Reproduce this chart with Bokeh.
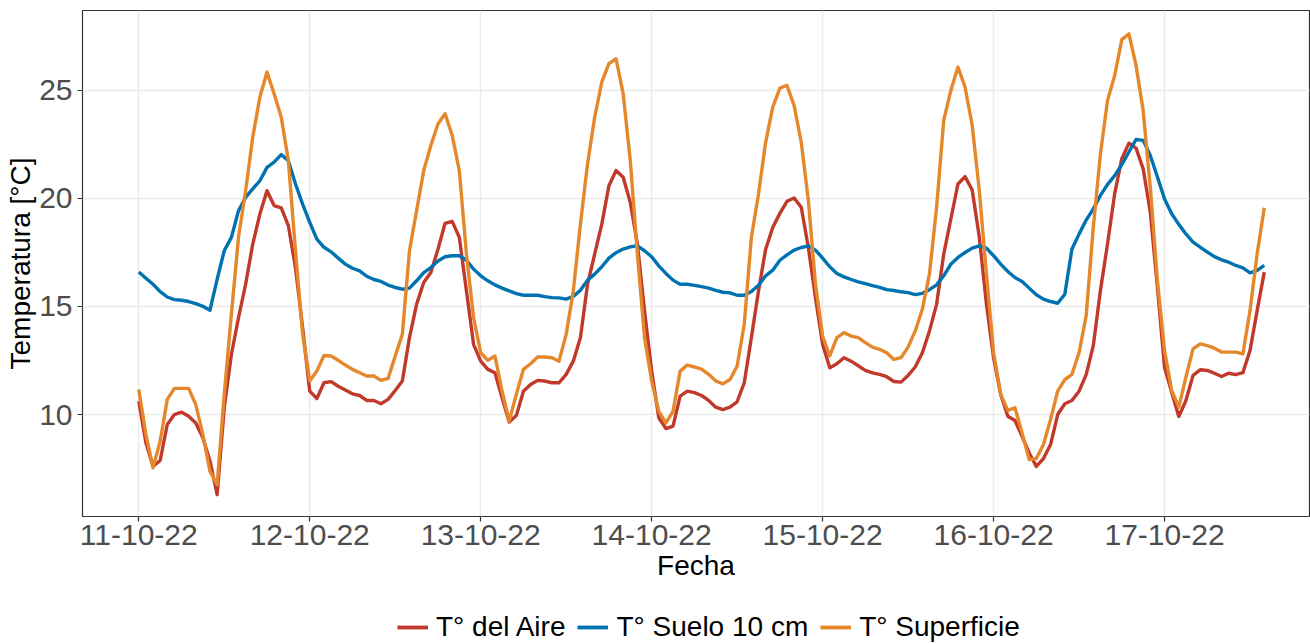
import pandas as pd
from bokeh.plotting import figure
from bokeh.layouts import column
from bokeh.models import (Range1d, FixedTicker, DaysTicker, DatetimeTickFormatter,
                          Legend, LegendItem)
from bokeh.embed import file_html
from bokeh.resources import INLINE

# ---------------- data (hourly, from 11-10-2022 00:00) ----------------
inicio = "2022-10-11 00:00"

t_aire = [
    10.62, 8.69, 7.60, 7.87, 9.54, 10.00, 10.11, 9.92, 9.61, 8.92, 7.84, 6.29,
    10.31, 12.78, 14.48, 16.03, 17.89, 19.28, 20.36, 19.67, 19.56, 18.74, 16.80, 14.02,
    11.08, 10.74, 11.47, 11.52, 11.31, 11.13, 10.96, 10.88, 10.65, 10.65, 10.50, 10.70,
    11.11, 11.55, 13.56, 15.10, 16.11, 16.57, 17.65, 18.85, 18.94, 18.20, 15.72, 13.25,
    12.47, 12.09, 11.93, 10.77, 9.65, 9.95, 11.08, 11.39, 11.58, 11.55, 11.47, 11.47,
    11.86, 12.47, 13.56, 16.03, 17.42, 18.81, 20.59, 21.29, 20.98, 19.82, 17.89, 14.80,
    12.01, 9.85, 9.35, 9.46, 10.85, 11.08, 11.01, 10.88, 10.65, 10.34, 10.23, 10.34,
    10.59, 11.47, 13.56, 15.72, 17.65, 18.66, 19.31, 19.87, 20.02, 19.59, 17.73, 15.41,
    13.25, 12.16, 12.35, 12.63, 12.47, 12.26, 12.04, 11.93, 11.86, 11.75, 11.53, 11.50,
    11.81, 12.20, 12.86, 13.87, 15.10, 17.42, 19.05, 20.67, 21.01, 20.39, 18.20, 15.10,
    12.63, 10.93, 9.92, 9.72, 8.99, 8.22, 7.60, 7.96, 8.61, 10.00, 10.50, 10.65,
    11.08, 11.85, 13.19, 15.74, 17.90, 20.22, 21.84, 22.56, 22.33, 21.37, 19.37, 15.90,
    12.19, 11.03, 9.91, 10.65, 11.81, 12.07, 12.04, 11.91, 11.76, 11.91, 11.85, 11.94,
    12.96, 14.81, 16.59,
]

t_suelo = [
    16.60, 16.31, 16.03, 15.69, 15.44, 15.32, 15.29, 15.23, 15.13, 15.01, 14.83, 16.25,
    17.58, 18.20, 19.43, 20.05, 20.44, 20.82, 21.44, 21.68, 22.03, 21.75, 20.67, 19.74,
    18.89, 18.12, 17.74, 17.53, 17.24, 16.96, 16.77, 16.65, 16.40, 16.25, 16.16, 15.99,
    15.88, 15.80, 15.85, 16.19, 16.57, 16.80, 17.11, 17.30, 17.35, 17.35, 17.14, 16.73,
    16.42, 16.19, 16.00, 15.85, 15.72, 15.60, 15.52, 15.52, 15.52, 15.46, 15.41, 15.40,
    15.34, 15.47, 15.75, 16.22, 16.50, 16.84, 17.24, 17.49, 17.66, 17.76, 17.81, 17.58,
    17.30, 16.88, 16.53, 16.22, 16.03, 16.03, 15.98, 15.92, 15.85, 15.75, 15.66, 15.63,
    15.52, 15.52, 15.69, 15.98, 16.42, 16.68, 17.14, 17.39, 17.61, 17.73, 17.81, 17.61,
    17.24, 16.84, 16.53, 16.37, 16.25, 16.14, 16.06, 15.97, 15.88, 15.78, 15.74, 15.68,
    15.64, 15.55, 15.61, 15.78, 16.00, 16.42, 16.96, 17.27, 17.50, 17.70, 17.81, 17.70,
    17.35, 16.96, 16.62, 16.34, 16.16, 15.85, 15.54, 15.34, 15.23, 15.15, 15.57, 17.66,
    18.35, 19.00, 19.52, 20.14, 20.65, 21.06, 21.57, 22.15, 22.73, 22.69, 21.99, 20.99,
    19.98, 19.29, 18.80, 18.36, 17.98, 17.75, 17.52, 17.31, 17.16, 17.05, 16.90, 16.79,
    16.56, 16.67, 16.90,
]

t_superficie = [
    11.16, 9.07, 7.53, 8.76, 10.70, 11.21, 11.21, 11.21, 10.46, 9.07, 7.37, 6.75,
    10.93, 14.64, 18.20, 20.36, 22.84, 24.69, 25.85, 24.85, 23.76, 21.75, 17.58, 13.71,
    11.55, 12.01, 12.73, 12.71, 12.51, 12.29, 12.09, 11.93, 11.78, 11.78, 11.58, 11.67,
    12.71, 13.71, 17.58, 19.43, 21.29, 22.45, 23.45, 23.92, 22.91, 21.29, 17.42, 14.49,
    12.86, 12.51, 12.71, 11.08, 9.70, 10.93, 12.09, 12.35, 12.66, 12.66, 12.63, 12.47,
    13.71, 15.72, 18.81, 21.60, 23.76, 25.39, 26.24, 26.47, 24.85, 21.75, 17.42, 13.56,
    11.55, 10.15, 9.61, 10.15, 12.01, 12.29, 12.20, 12.10, 11.86, 11.55, 11.42, 11.62,
    12.24, 14.18, 18.20, 20.21, 22.60, 24.23, 25.11, 25.23, 24.30, 22.60, 19.90, 16.03,
    13.63, 12.71, 13.56, 13.79, 13.63, 13.56, 13.33, 13.12, 13.02, 12.86, 12.55, 12.63,
    13.12, 13.87, 14.87, 16.50, 19.59, 23.61, 25.00, 26.08, 25.15, 23.38, 20.36, 16.50,
    12.86, 10.93, 10.19, 10.31, 9.15, 7.91, 7.96, 8.61, 9.77, 11.08, 11.62, 11.86,
    12.86, 14.58, 18.67, 22.07, 24.54, 25.69, 27.35, 27.62, 26.16, 24.07, 20.52, 16.20,
    12.96, 11.11, 10.34, 11.73, 13.04, 13.27, 13.19, 13.07, 12.89, 12.89, 12.89, 12.81,
    14.81, 17.44, 19.57,
]

y_ticks = [10, 15, 20, 25]
series_labels = ["T° del Aire", "T° Suelo 10 cm", "T° Superficie"]
series_colors = ["#C0392B", "#0072B2", "#E4882B"]
series_values = [t_aire, t_suelo, t_superficie]

# ---------------- main figure ----------------
FONT = "Liberation Sans"
t0 = pd.Timestamp(inicio)
fechas = pd.date_range(t0, periods=len(t_aire), freq="h")

p = figure(
    width=1310, height=600,
    output_backend="svg", toolbar_location=None,
    x_axis_type="datetime",
    x_range=Range1d(t0 - pd.Timedelta(hours=7.9), t0 + pd.Timedelta(hours=164.35)),
    y_range=Range1d(5.28, 28.70),
    min_border_left=82, min_border_right=1, min_border_top=10, min_border_bottom=84,
    x_axis_label="Fecha", y_axis_label="Temperatura [°C]",
)
p.background_fill_color = "white"
p.border_fill_color = "white"
p.outline_line_color = "#333333"
p.outline_line_width = 1.2

p.yaxis.ticker = FixedTicker(ticks=y_ticks)
p.xaxis.ticker = DaysTicker(days=list(range(1, 32)))
p.xaxis.formatter = DatetimeTickFormatter(days="%d-%m-%y", months="%d-%m-%y",
                                          hours="%d-%m-%y", years="%d-%m-%y")

for ax in (p.xaxis[0], p.yaxis[0]):
    ax.axis_line_color = None
    ax.major_tick_line_color = "#333333"
    ax.major_tick_line_width = 1.2
    ax.major_tick_out = 5
    ax.major_tick_in = 0
    ax.minor_tick_line_color = None
    ax.major_label_text_font = FONT
    ax.major_label_text_font_size = "30px"
    ax.major_label_text_color = "#4D4D4D"
    ax.axis_label_text_font = FONT
    ax.axis_label_text_font_style = "normal"
    ax.axis_label_text_font_size = "28px"
    ax.axis_label_text_color = "black"

p.xaxis.major_label_standoff = 3
p.xaxis.axis_label_standoff = 2
p.yaxis.major_label_standoff = 5
p.yaxis.axis_label_standoff = 0

for g in (p.xgrid[0], p.ygrid[0]):
    g.grid_line_color = "#EBEBEB"
    g.grid_line_width = 1.5
p.ygrid.ticker = FixedTicker(ticks=y_ticks)

for vals, col in zip(series_values, series_colors):
    p.line(fechas, vals, line_color=col, line_width=3.4, line_join="round")

# ---------------- legend strip (below the plot) ----------------
leg = figure(
    width=1310, height=44,
    output_backend="svg", toolbar_location=None,
    x_axis_location=None, y_axis_location=None,
    x_range=Range1d(0, 1), y_range=Range1d(0, 1),
    min_border_left=0, min_border_right=0, min_border_top=0, min_border_bottom=0,
)
leg.outline_line_color = None
leg.background_fill_color = "white"
leg.border_fill_color = "white"
leg.xgrid.visible = False
leg.ygrid.visible = False

# legend keys: one-point lines (draw nothing, outside the strip's range)
keys = []
for vals, col in zip(series_values, series_colors):
    keys.append(leg.line(x=list(fechas[:1]), y=vals[:1], line_color=col, line_width=3.8))

legend = Legend(
    items=[LegendItem(label=lab, renderers=[r]) for lab, r in zip(series_labels, keys)],
    orientation="horizontal",
    location=(315, 1),
    padding=0, margin=0, spacing=12,
    glyph_width=31, glyph_height=20, label_height=20, label_standoff=8,
    label_text_font=FONT, label_text_font_size="28px", label_text_color="black",
    background_fill_alpha=0, border_line_color=None,
)
leg.add_layout(legend)

layout = column(p, leg, spacing=0)
open("out.html", "w").write(file_html(layout, INLINE))
